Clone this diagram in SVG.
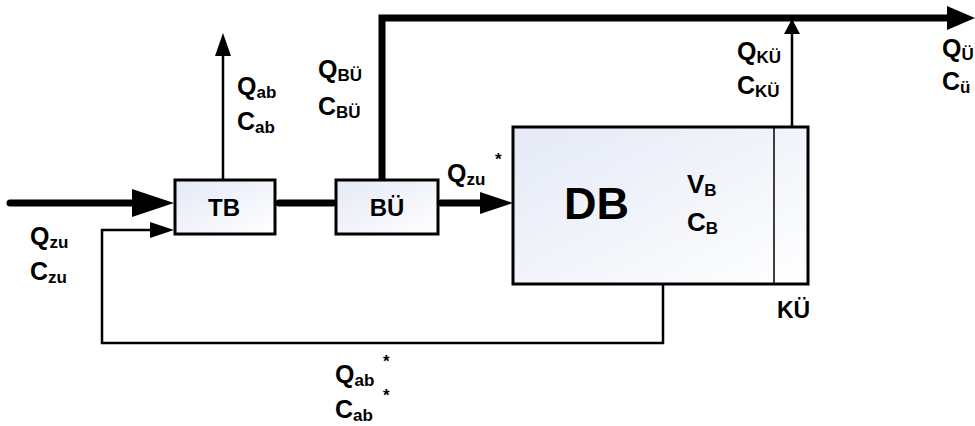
<svg xmlns="http://www.w3.org/2000/svg" width="975" height="426" viewBox="0 0 975 426">
<style>
text{font-family:"Liberation Sans",Arial,sans-serif;font-weight:bold;fill:#000}
.lbl{font-size:25px}
.sub{font-size:17px}
.box{stroke:#000;stroke-width:3;fill:url(#grad)}
.thin{stroke:#000;stroke-width:2.5;fill:none}
.thick{stroke:#000;stroke-width:7;fill:none}
.head{fill:#000}
</style>
<defs>
<linearGradient id="grad" x1="0" y1="0" x2="1" y2="1">
<stop offset="0" stop-color="#e4e9f5"/>
<stop offset="1" stop-color="#ffffff"/>
</linearGradient>
</defs>
<g id="connectors">
<line class="thick" x1="10" y1="203" x2="135" y2="203" stroke-linecap="round"/>
<polygon class="head" points="132,189 174,203 132,217"/>
<line class="thick" x1="279" y1="203" x2="333" y2="203" stroke-width="9" stroke-linecap="round"/>
<line class="thick" x1="441" y1="203" x2="483" y2="203" stroke-width="6" stroke-linecap="round"/>
<polygon class="head" points="480,192 513,203 480,214"/>
<line class="thin" x1="223" y1="180" x2="223" y2="52"/>
<polygon class="head" points="215,56 223,33 231,56"/>
<path class="thick" d="M382,181 V18 H950" stroke-width="6"/>
<polygon class="head" points="947,6 975,18 947,30"/>
<line class="thin" x1="792" y1="127" x2="792" y2="30"/>
<polygon class="head" points="784,34 792,19 800,34"/>
<path class="thin" d="M663,284 V343 H102 V230 H152"/>
<polygon class="head" points="150,222 174,230 150,238"/>
</g>
<g id="TB">
<rect class="box" x="175" y="180" width="100" height="54"/>
<text x="224" y="216" font-size="24" text-anchor="middle">TB</text>
</g>
<g id="BU">
<rect class="box" x="336" y="180" width="102" height="54"/>
<text x="387" y="216" font-size="24" text-anchor="middle">BÜ</text>
</g>
<g id="DB">
<rect class="box" x="513" y="127" width="295" height="157"/>
<line x1="774" y1="127" x2="774" y2="284" stroke="#000" stroke-width="1.5"/>
<text x="564" y="219" font-size="45">DB</text>
<text x="687" y="193" font-size="26">V<tspan class="sub" dy="3">B</tspan></text>
<text x="687" y="231" font-size="26">C<tspan class="sub" dy="3">B</tspan></text>
<text x="777" y="318" font-size="23">KÜ</text>
</g>
<g id="labels">
<text class="lbl" x="30" y="245">Q<tspan class="sub" dy="3">zu</tspan></text>
<text class="lbl" x="30" y="280">C<tspan class="sub" dy="3">zu</tspan></text>
<text class="lbl" x="237" y="95">Q<tspan class="sub" dy="3">ab</tspan></text>
<text class="lbl" x="237" y="130">C<tspan class="sub" dy="3">ab</tspan></text>
<text class="lbl" x="318" y="78">Q<tspan class="sub" dy="3">BÜ</tspan></text>
<text class="lbl" x="318" y="115">C<tspan class="sub" dy="3">BÜ</tspan></text>
<text class="lbl" x="447" y="182">Q<tspan class="sub" dy="3">zu</tspan></text>
<text class="sub" x="495" y="165" font-size="15">*</text>
<text class="lbl" x="737" y="60">Q<tspan class="sub" dy="3">KÜ</tspan></text>
<text class="lbl" x="737" y="94">C<tspan class="sub" dy="3">KÜ</tspan></text>
<text class="lbl" x="942" y="57">Q<tspan class="sub" dy="3">Ü</tspan></text>
<text class="lbl" x="942" y="90">C<tspan class="sub" dy="3">ü</tspan></text>
<text class="lbl" x="335" y="383">Q<tspan class="sub" dy="3">ab</tspan></text>
<text class="sub" x="383" y="367" font-size="15">*</text>
<text class="lbl" x="335" y="418">C<tspan class="sub" dy="3">ab</tspan></text>
<text class="sub" x="383" y="401" font-size="15">*</text>
</g>
</svg>
